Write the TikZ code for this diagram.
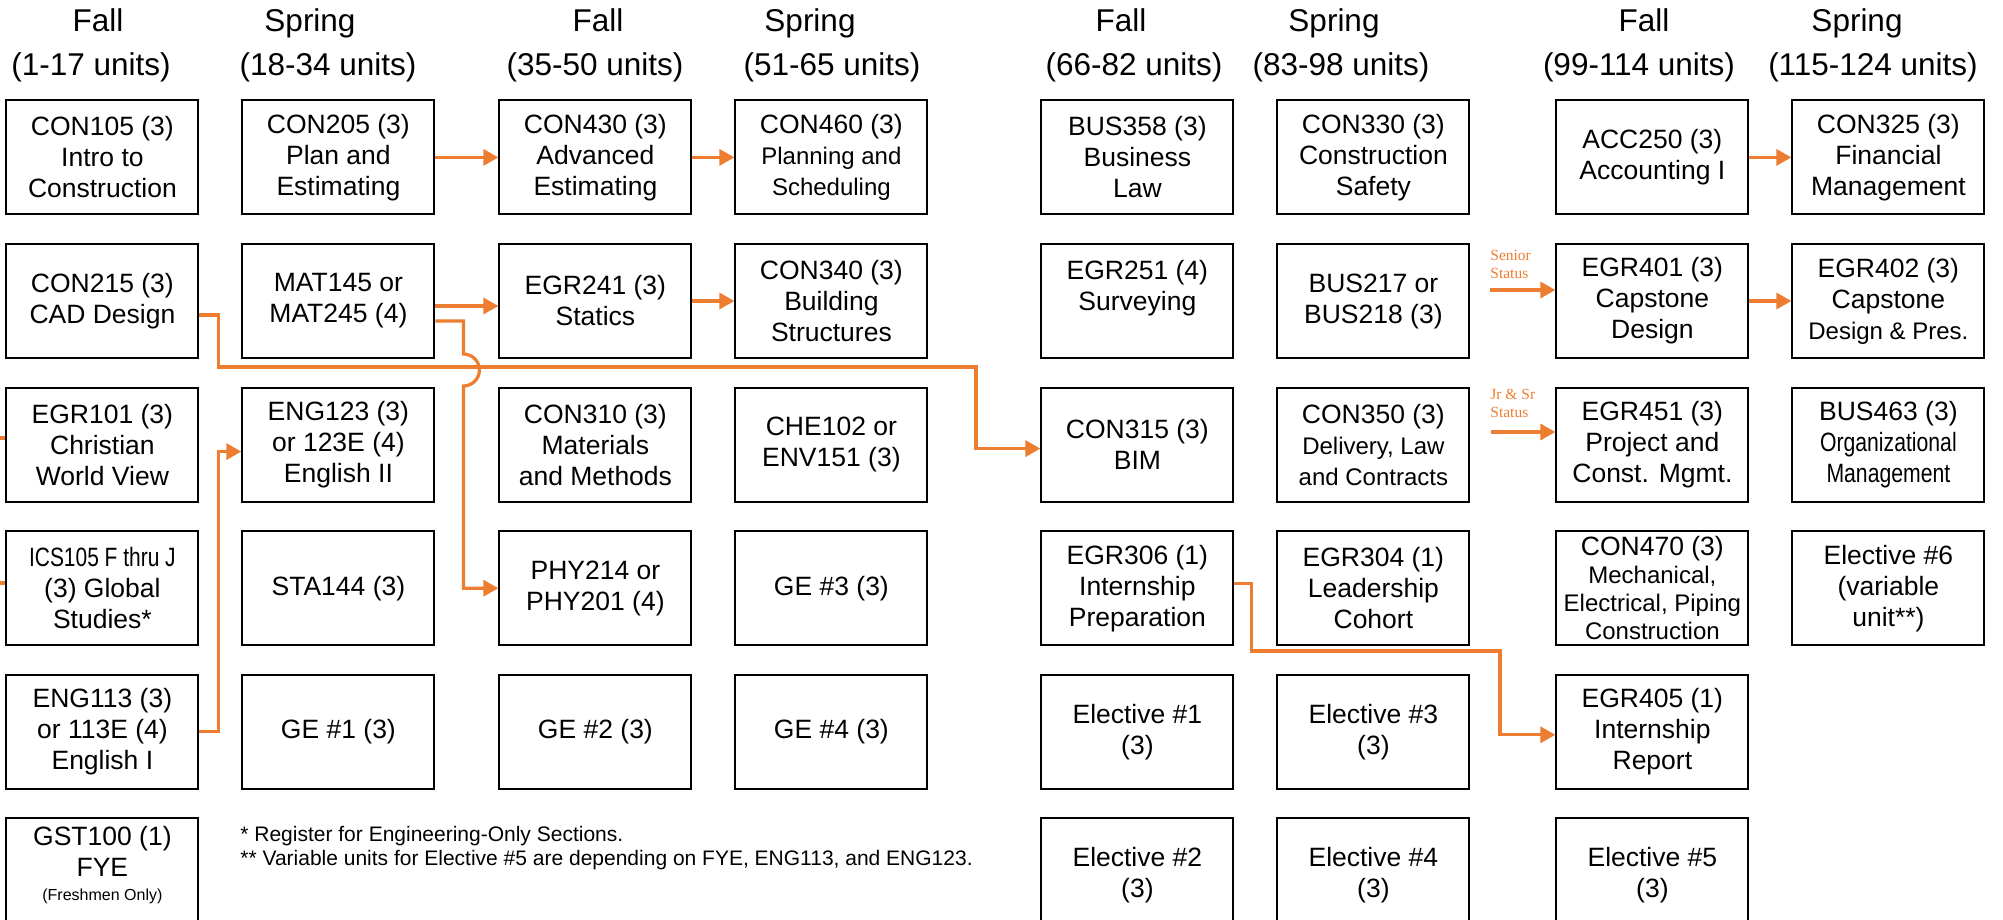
\documentclass[tikz,border=0pt]{standalone}
\usepackage{fontspec}
\setmainfont{Liberation Sans}
\newfontfamily\statusfont{Liberation Serif}
\usetikzlibrary{arrows.meta}

\definecolor{flow}{HTML}{ED7D31}

\begin{document}
\begin{tikzpicture}[x=0.5pt, y=-0.5pt, >={Triangle[length=7.5pt,width=8pt]}]

% course style
\tikzstyle{course} = [
    draw,
    line width=1pt,
    rectangle,
    align=center,
    inner sep=0pt,
    minimum height=57pt,
    minimum width=96pt,
    font=\fontsize{13.25}{15.5}\selectfont
]

% term heading style
\tikzstyle{term} = [
    anchor=base,
    inner sep=0pt,
    font=\fontsize{15.75}{18}\selectfont
]

% prerequisite link style
\tikzstyle{link} = [
    draw=flow,
    line width=1.6pt
]

% status note style
\tikzstyle{status} = [
    anchor=west,
    align=left,
    inner sep=0pt,
    text=flow,
    font=\statusfont\fontsize{7.75}{9}\selectfont
]

\useasboundingbox (0,0) rectangle (2003,920);

% Place the nodes.
\matrix [anchor=north west, inner sep=0pt, row sep=13.8pt, column sep=21pt] at (5,99)
{
    \node [course] (con105) {CON105 (3)\\Intro to\\Construction};
    & \node [course] (con205) {CON205 (3)\\Plan and\\Estimating};
    &[10.5pt] \node [course] (con430) {CON430 (3)\\Advanced\\Estimating};
    & \node [course] (con460) {CON460 (3)\\{\fontsize{12}{14}\selectfont Planning and}\\{\fontsize{12}{14}\selectfont Scheduling}};
    &[35pt] \node [course] (bus358) {BUS358 (3)\\Business\\Law};
    & \node [course] (con330) {CON330 (3)\\Construction\\Safety};
    &[21.5pt] \node [course] (acc250) {ACC250 (3)\\Accounting I};
    & \node [course] (con325) {CON325 (3)\\Financial\\Management};
    \\

    \node [course] (con215) {CON215 (3)\\CAD Design};
    & \node [course] (mat145) {MAT145 or\\MAT245 (4)};
    & \node [course] (egr241) {EGR241 (3)\\Statics};
    & \node [course] (con340) {CON340 (3)\\Building\\Structures};
    & \node [course] (egr251) {EGR251 (4)\\Surveying\\\mbox{}};
    & \node [course] (bus217) {BUS217 or\\BUS218 (3)};
    & \node [course] (egr401) {EGR401 (3)\\Capstone\\Design};
    & \node [course] (egr402) {EGR402 (3)\\Capstone\\{\fontsize{12}{14}\selectfont Design \& Pres.}};
    \\

    \node [course] (egr101) {EGR101 (3)\\Christian\\World View};
    & \node [course] (eng123) {ENG123 (3)\\or 123E (4)\\English II};
    & \node [course] (con310) {CON310 (3)\\Materials\\and Methods};
    & \node [course] (che102) {CHE102 or\\ENV151 (3)};
    & \node [course] (con315) {CON315 (3)\\BIM};
    & \node [course] (con350) {CON350 (3)\\{\fontsize{12}{14}\selectfont Delivery, Law}\\{\fontsize{12}{14}\selectfont and Contracts}};
    & \node [course] (egr451) {EGR451 (3)\\Project and\\Const. Mgmt.};
    & \node [course] (bus463) {BUS463 (3)\\\scalebox{0.8}[1]{Organizational}\\\scalebox{0.8}[1]{Management}};
    \\

    \node [course] (ics105) {\scalebox{0.79}[1]{ICS105 F thru J}\\(3) Global\\Studies*};
    & \node [course] (sta144) {STA144 (3)};
    & \node [course] (phy214) {PHY214 or\\PHY201 (4)};
    & \node [course] (ge3) {GE \#3 (3)};
    & \node [course] (egr306) {EGR306 (1)\\Internship\\Preparation};
    & \node [course] (egr304) {EGR304 (1)\\Leadership\\Cohort};
    & \node [course, font=\fontsize{13.25}{14}\selectfont] (con470) {CON470 (3)\\{\fontsize{12}{14}\selectfont Mechanical,}\\{\fontsize{12}{14}\selectfont Electrical, Piping}\\{\fontsize{12}{14}\selectfont Construction}};
    & \node [course] (elec6) {Elective \#6\\(variable\\unit**)};
    \\

    \node [course] (eng113) {ENG113 (3)\\or 113E (4)\\English I};
    & \node [course] (ge1) {GE \#1 (3)};
    & \node [course] (ge2) {GE \#2 (3)};
    & \node [course] (ge4) {GE \#4 (3)};
    & \node [course] (elec1) {Elective \#1\\(3)};
    & \node [course] (elec3) {Elective \#3\\(3)};
    & \node [course] (egr405) {EGR405 (1)\\Internship\\Report};
    &
    \\

    \node [course] (gst100) {GST100 (1)\\FYE\\[-3.5pt]{\fontsize{8}{10}\selectfont (Freshmen Only)}\\[-3pt]\mbox{}};
    &
    &
    &
    & \node [course] (elec2) {Elective \#2\\(3)};
    & \node [course] (elec4) {Elective \#4\\(3)};
    & \node [course] (elec5) {Elective \#5\\(3)};
    &
    \\
};

% Term headings.
\node [term] (fall1) at (98,32) {Fall};
\node [term] (units1) at (91,76) {(1-17 units)};
\node [term] (spring1) at (310,32) {Spring};
\node [term] (units2) at (328,76) {(18-34 units)};
\node [term] (fall2) at (598,32) {Fall};
\node [term] (units3) at (595,76) {(35-50 units)};
\node [term] (spring2) at (810,32) {Spring};
\node [term] (units4) at (832,76) {(51-65 units)};
\node [term] (fall3) at (1121,32) {Fall};
\node [term] (units5) at (1134,76) {(66-82 units)};
\node [term] (spring3) at (1334,32) {Spring};
\node [term] (units6) at (1341,76) {(83-98 units)};
\node [term] (fall4) at (1644,32) {Fall};
\node [term] (units7) at (1639,76) {(99-114 units)};
\node [term] (spring4) at (1857,32) {Spring};
\node [term] (units8) at (1873,76) {(115-124 units)};

% Footnotes.
\node [anchor=west, align=left, inner sep=0pt, font=\fontsize{10.5}{12}\selectfont] (notes) at (240,848)
    {* Register for Engineering-Only Sections.\\** Variable units for Elective \#5 are depending on FYE, ENG113, and ENG123.};

% Status notes.
\node [status] (senior) at (1490,264) {Senior\\Status};
\node [status] (jrsr) at (1490,403) {Jr \& Sr\\Status};
\coordinate (senior-in) at (1490,290);
\coordinate (jrsr-in) at (1491,432);

% Turning points and cut-off links.
\coordinate (bim-turn) at (976,367);
\coordinate (report-turn) at (1500,651);
\coordinate (cut-a) at (-20,438);
\coordinate (cut-b) at (-20,583);

% Connect the nodes.
\draw [link, ->] (con205) -- (con430);
\draw [link, ->] (con430) -- (con460);
\draw [link, ->] ([yshift=-2.5pt]mat145.east) -- ([yshift=-2.5pt]egr241.west);
\draw [link, ->] (egr241) -- (con340);
\draw [link, ->] (acc250) -- (con325);
\draw [link, ->] (egr401) -- (egr402);
\draw [link, ->] (senior-in) -- (senior-in -| egr401.west);
\draw [link, ->] (jrsr-in) -- (jrsr-in -| egr451.west);

\draw [link, ->] ([yshift=-7pt]con215.east) -- ++(19,0) |- (bim-turn) |- ([yshift=-2pt]con315.west);
\draw [link, ->] ([yshift=-10pt]mat145.east) -| ++(28,33) arc [start angle=90, end angle=-90, radius=8pt] |- (phy214.west);
\draw [link, ->] (eng113.east) -- ++(19,0) |- ([yshift=-3.5pt]eng123.west);
\draw [link, ->] ([yshift=2.5pt]egr306.east) -- ++(17,0) |- (report-turn) |- ([yshift=-1.5pt]egr405.west);

\draw [link] (cut-a) -- (cut-a -| egr101.west);
\draw [link] (cut-b) -- (cut-b -| ics105.west);

\end{tikzpicture}
\end{document}
